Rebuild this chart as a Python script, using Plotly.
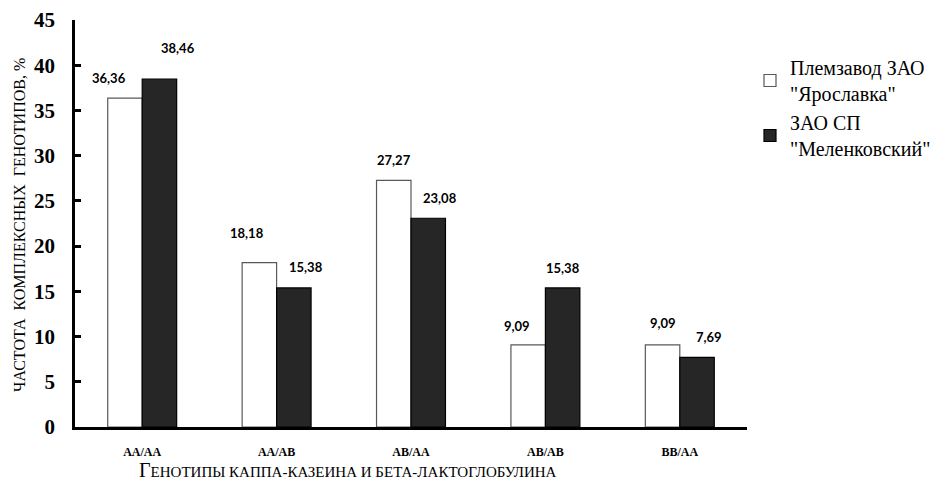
import plotly.graph_objects as go

categories = ["AA/AA", "AA/AB", "AB/AA", "AB/AB", "BB/AA"]
series_names = ["Племзавод ЗАО<br>\"Ярославка\"", "ЗАО СП<br>\"Меленковский\""]
yaroslavka = [36.36, 18.18, 27.27, 9.09, 9.09]
melenkovsky = [38.46, 15.38, 23.08, 15.38, 7.69]
y_ticks = [0, 5, 10, 15, 20, 25, 30, 35, 40, 45]

# label nudges (pixels) as placed in the original chart
lab_dx = [[-16, -12, 0, -11, 0], [19, 12, 12, 0, 12]]
lab_dy = [[20, 30, 20, 19, 22], [31, 21, 20, 20, 20]]

fills = ["#ffffff", "#262626"]
borders = ["#595959", "#000000"]
SERIF = "Liberation Serif"

fig = go.Figure()
for i, vals in enumerate([yaroslavka, melenkovsky]):
    fig.add_trace(go.Bar(
        x=categories, y=vals, name=series_names[i],
        marker=dict(color=fills[i], line=dict(color=borders[i], width=1.2)),
    ))

W, H = 952, 486
ml, mr, mt, mb = 75, 205, 20, 59
plot_w = W - ml - mr
plot_h = H - mt - mb
cat_w = plot_w / len(categories)
bargap = 0.487
bar_w = cat_w * (1 - bargap) / 2

annotations = []
for i, vals in enumerate([yaroslavka, melenkovsky]):
    base = (-0.5 + i) * bar_w
    for j, v in enumerate(vals):
        annotations.append(dict(
            x=categories[j], y=v, xref="x", yref="y",
            text="<b>" + f"{v:.2f}".replace(".", ",") + "</b>", showarrow=False,
            xshift=base + lab_dx[i][j], yshift=lab_dy[i][j],
            xanchor="center", yanchor="middle",
            font=dict(family="Lato", size=13, color="#000000"),
        ))

annotations.append(dict(
    x=(348 - ml) / plot_w, y=-(470 - (H - mb)) / plot_h,
    xref="paper", yref="paper", showarrow=False, xanchor="center", yanchor="middle",
    text="<span style='font-size:20px'>Г</span>ЕНОТИПЫ КАППА-КАЗЕИНА И БЕТА-ЛАКТОГЛОБУЛИНА",
    font=dict(family=SERIF, size=15, color="#000000"),
))
annotations.append(dict(
    x=-(ml - 19) / plot_w, y=(H - mb - 225) / plot_h,
    xref="paper", yref="paper", showarrow=False, xanchor="center", yanchor="middle",
    textangle=-90,
    text="ЧАСТОТА  КОМПЛЕКСНЫХ  ГЕНОТИПОВ, %",
    font=dict(family=SERIF, size=16, color="#000000"),
))

fig.update_layout(
    width=W, height=H,
    font=dict(family=SERIF, color="#000000"),
    margin=dict(l=ml, r=mr, t=mt, b=mb, pad=0, autoexpand=False),
    paper_bgcolor="#ffffff", plot_bgcolor="#ffffff",
    barmode="group", bargap=bargap, bargroupgap=0,
    showlegend=True,
    legend=dict(x=(750 - ml) / plot_w, y=1 - (48 - mt) / plot_h,
                xanchor="left", yanchor="top",
                font=dict(family=SERIF, size=20, color="#000000"),
                bgcolor="rgba(0,0,0,0)", itemwidth=30, tracegroupgap=10),
    annotations=annotations,
    xaxis=dict(showline=True, linecolor="#000000", linewidth=3, ticks="",
               showgrid=False, zeroline=False, ticklabelstandoff=12,
               tickvals=categories, ticktext=["<b>" + c + "</b>" for c in categories],
               tickfont=dict(family=SERIF, size=12, color="#000000")),
    yaxis=dict(range=[0, 45], tickvals=y_ticks,
               ticktext=["<b>" + str(t) + "</b>" for t in y_ticks],
               showline=True, linecolor="#000000",
               linewidth=2.5, ticks="inside", ticklen=6, tickwidth=3, tickcolor="#000000",
               showgrid=False, zeroline=False, ticklabelstandoff=13,
               tickfont=dict(family=SERIF, size=21, color="#000000")),
)

fig.write_html("out.html")
